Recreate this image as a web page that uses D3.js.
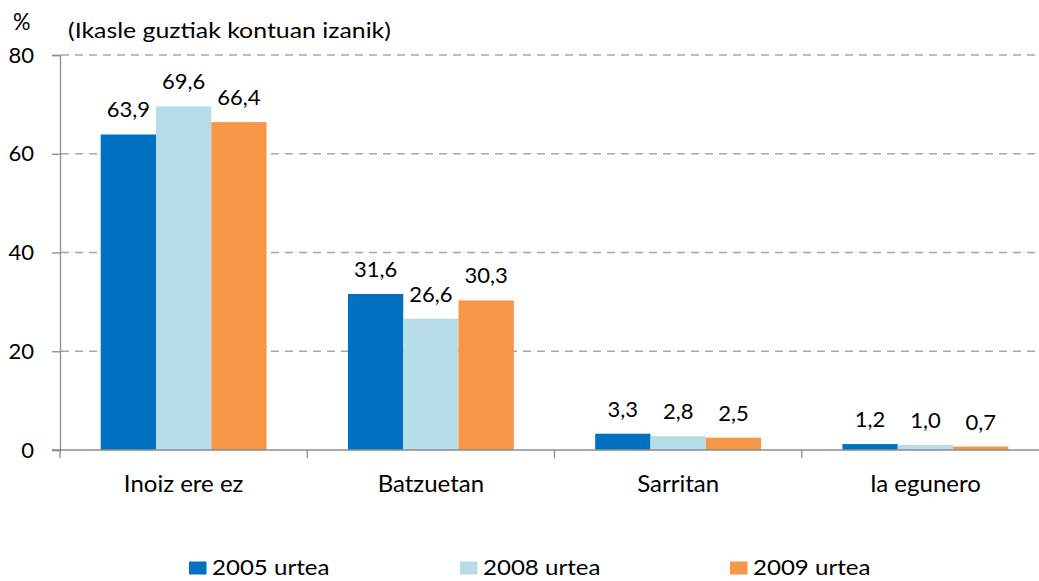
<!DOCTYPE html>
<html><head><meta charset="utf-8">
<script src="https://cdn.jsdelivr.net/npm/d3@7"></script>
<style>body{margin:0;background:#fff}svg{display:block}text{font-family:Lato,"Open Sans",sans-serif;fill:#000}</style>
</head><body><svg id="c" width="1039" height="581"></svg>
<script>
const categories = ["Inoiz ere ez", "Batzuetan", "Sarritan", "Ia egunero"];
const seriesNames = ["2005 urtea", "2008 urtea", "2009 urtea"];
const v2005 = [63.9, 31.6, 3.3, 1.2];
const v2008 = [69.6, 26.6, 2.8, 1.0];
const v2009 = [66.4, 30.3, 2.5, 0.7];
const yTicks = [0, 20, 40, 60, 80];
const colors = ["#0070C0", "#B7DDE8", "#F79646"];
const series = [v2005, v2008, v2009];

const svg = d3.select("#c");
const x0 = d3.scaleBand().domain(categories).range([60, 1049]).paddingInner(0).paddingOuter(0);
const x1 = d3.scaleBand().domain(seriesNames).range([0, x0.bandwidth()]).paddingOuter(0.736).paddingInner(0);
const y = d3.scaleLinear().domain([0, 80]).range([450, 55]);
const axisColor = "#8c8c8c";

function label(g, x, yy, txt, size, sx, anchor) {
  return g.append("text")
    .attr("transform", `translate(${x},${yy}) scale(${sx},1)`)
    .attr("text-anchor", anchor || "start")
    .attr("font-size", size).text(txt);
}

// gridlines
svg.append("g").selectAll("line").data(yTicks.filter(d => d > 0)).join("line")
  .attr("x1", 61).attr("x2", 1039).attr("y1", d => y(d)).attr("y2", d => y(d))
  .attr("stroke", "#a6a6a6").attr("stroke-width", 1.3).attr("stroke-dasharray", "8,6");

// bars
const fmt = d => d.toFixed(1).replace(".", ",");
categories.forEach((c, ci) => {
  const g = svg.append("g").attr("transform", `translate(${x0(c)},0)`);
  seriesNames.forEach((s, si) => {
    const v = series[si][ci];
    g.append("rect").attr("x", x1(s)).attr("width", x1.bandwidth())
      .attr("y", y(v)).attr("height", y(0) - y(v)).attr("fill", colors[si]);
    label(g, x1(s) + x1.bandwidth() / 2, y(v) - 17, fmt(v), 22, 1.0, "middle");
  });
});

// y axis
const yAxis = svg.append("g").attr("transform", "translate(60,0)")
  .call(d3.axisLeft(y).tickValues(yTicks).tickSize(8).tickFormat(""));
yAxis.select(".domain").attr("stroke", axisColor).attr("stroke-width", 1.3);
yAxis.selectAll(".tick line").attr("stroke", axisColor).attr("stroke-width", 1.3);
yTicks.forEach(t => label(svg, 34, y(t) + 7.5, String(t), 21, 1.05, "end"));

// x axis
const xAxisG = svg.append("g").attr("transform", "translate(0,450)");
xAxisG.append("line").attr("x1", 52).attr("x2", 1039).attr("y1", 0).attr("y2", 0)
  .attr("stroke", axisColor).attr("stroke-width", 1.3);
xAxisG.selectAll("line.tk").data(categories.concat(["end"])).join("line").attr("class", "tk")
  .attr("x1", (d, i) => x0.range()[0] + i * x0.bandwidth())
  .attr("x2", (d, i) => x0.range()[0] + i * x0.bandwidth())
  .attr("y1", 0).attr("y2", 8).attr("stroke", axisColor).attr("stroke-width", 1.3);
categories.forEach(c => label(xAxisG, x0(c) + x0.bandwidth() / 2, 42, c, 24, 1.0, "middle"));

// titles
label(svg, 13, 30, "%", 23, 0.95);
label(svg, 68, 38, "(Ikasle guztiak kontuan izanik)", 22, 1.13);

// legend
const legendX = [189, 460, 730];
seriesNames.forEach((s, i) => {
  svg.append("rect").attr("x", legendX[i]).attr("y", 561.5).attr("width", 17.5).attr("height", 13).attr("fill", colors[i]);
  label(svg, legendX[i] + 23, 575, s, 21.5, 1.12);
});
</script></body></html>
